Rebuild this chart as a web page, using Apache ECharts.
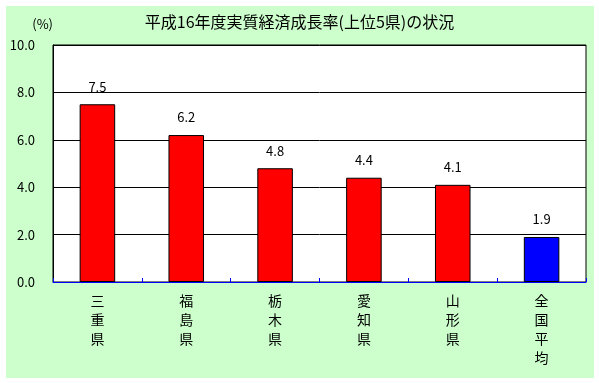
<!DOCTYPE html>
<html><head><meta charset="utf-8">
<script src="https://cdn.jsdelivr.net/npm/echarts@6/dist/echarts.min.js"></script>
<style>html,body{margin:0;padding:0;background:#fff}#c{width:599px;height:383px}</style>
</head><body><div id="c"></div>
<script>
const titleText = '平成16年度実質経済成長率(上位5県)の状況';
const categories = ['三重県','福島県','栃木県','愛知県','山形県','全国平均'];
const values = [7.5, 6.2, 4.8, 4.4, 4.1, 1.9];
const barColors = ['#ff0000','#ff0000','#ff0000','#ff0000','#ff0000','#0000ff'];
const yTicks = [0, 2, 4, 6, 8, 10];

const FONT = '"Noto Sans CJK JP", sans-serif';
const chart = echarts.init(document.getElementById('c'), null, {renderer:'canvas'});
chart.setOption({
  animation:false,
  backgroundColor:'#ffffff',
  graphic:[{type:'rect', z:-10, shape:{x:6,y:6,width:588,height:372}, style:{fill:'#ccffcc'}}],
  title:{text:titleText, left:'center', top:9, textStyle:{fontFamily:FONT, fontSize:16, fontWeight:'normal', color:'#000'}},
  grid:{left:53, top:45, right:13, bottom:101, show:true, backgroundColor:'#ffffff', borderColor:'#000', borderWidth:1},
  xAxis:{type:'category', data:categories,
    axisLine:{lineStyle:{color:'#0000ff', width:1}},
    axisTick:{show:true, inside:true, length:4, lineStyle:{color:'#0000ff'}},
    axisLabel:{fontFamily:FONT, fontSize:14, color:'#000', lineHeight:19, margin:9,
      formatter:v=>v.split('').join('\n')}},
  yAxis:{type:'value', min:yTicks[0], max:yTicks[yTicks.length-1], interval:2,
    name:'(%)', nameLocation:'end', nameGap:14,
    nameTextStyle:{fontFamily:FONT, fontSize:13, color:'#000', align:'right'},
    axisLine:{show:true, lineStyle:{color:'#000'}},
    axisTick:{show:false},
    splitLine:{lineStyle:{color:'#000', width:1}},
    axisLabel:{fontFamily:FONT, fontSize:13, color:'#000', margin:18, formatter:v=>v.toFixed(1)}},
  series:[{type:'bar', barWidth:'40%',
    data:values.map((v,i)=>({value:v, itemStyle:{color:barColors[i]}})),
    itemStyle:{borderColor:'#000', borderWidth:1},
    label:{show:true, position:'top', distance:11, fontFamily:FONT, fontSize:13, color:'#000', formatter:p=>p.value.toFixed(1)}}]
});
</script></body></html>
